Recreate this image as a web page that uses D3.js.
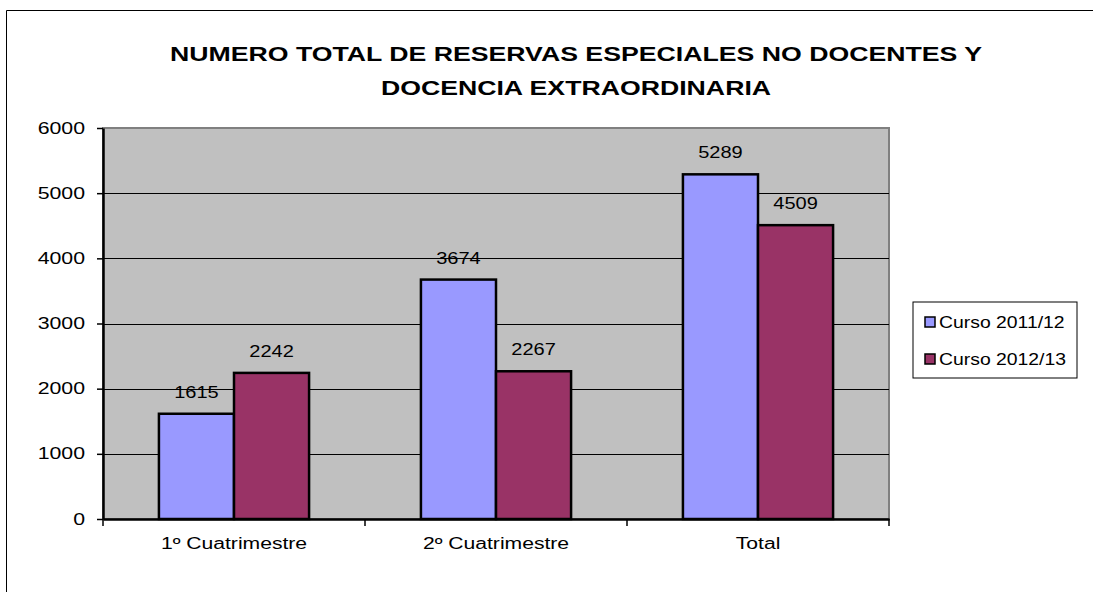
<!DOCTYPE html>
<html>
<head>
<meta charset="utf-8">
<script src="https://cdn.jsdelivr.net/npm/d3@7"></script>
<style>
  body { margin: 0; background: #fff; }
  text { font-family: "Liberation Sans", Arial, sans-serif; }
</style>
</head>
<body>
<svg id="chart" width="1093" height="592"></svg>
<script>
"use strict";

// chart data
const categories = ["1º Cuatrimestre", "2º Cuatrimestre", "Total"];
const seriesNames = ["Curso 2011/12", "Curso 2012/13"];
const curso1112 = [1615, 3674, 5289];
const curso1213 = [2242, 2267, 4509];
const yTicks = [0, 1000, 2000, 3000, 4000, 5000, 6000];
const titleLines = ["NUMERO TOTAL DE RESERVAS ESPECIALES NO DOCENTES Y", "DOCENCIA EXTRAORDINARIA"];
const colors = ["#9999ff", "#993366"];

const svg = d3.select("#chart");

// the original picture has its text a bit wider than normal, stretch it
function stretch(sel, factor) {
  sel.each(function() {
    const w = this.getComputedTextLength();
    d3.select(this)
      .attr("textLength", w * factor)
      .attr("lengthAdjust", "spacingAndGlyphs");
  });
}

// outer chart frame
svg.append("path")
  .attr("d", "M6.5,592 V10.5 H1093")
  .attr("fill", "none")
  .attr("stroke", "#000")
  .attr("stroke-width", 1);

// title
const title = svg.append("g").selectAll("text")
  .data(titleLines)
  .enter().append("text")
  .attr("x", 576)
  .attr("y", (d, i) => 61 + i * 34)
  .attr("text-anchor", "middle")
  .attr("font-size", 21)
  .attr("font-weight", "bold")
  .text(d => d);
stretch(title, 1.27);

const plot = { left: 103, right: 889, top: 128, bottom: 519 };

const x = d3.scaleBand()
  .domain(categories)
  .range([plot.left, plot.right]);

const x1 = d3.scaleBand()
  .domain(d3.range(seriesNames.length))
  .range([0, x.bandwidth()])
  .paddingOuter(0.745)
  .paddingInner(0);

const y = d3.scaleLinear()
  .domain([0, 6000])
  .range([plot.bottom, plot.top]);

// plot area
svg.append("rect")
  .attr("x", plot.left)
  .attr("y", plot.top)
  .attr("width", plot.right - plot.left)
  .attr("height", plot.bottom - plot.top)
  .attr("fill", "#c0c0c0")
  .attr("stroke", "#808080")
  .attr("stroke-width", 2);

// gridlines
svg.append("g").selectAll("line")
  .data(yTicks.filter(d => d > 0 && d < 6000))
  .enter().append("line")
  .attr("x1", plot.left)
  .attr("x2", plot.right)
  .attr("y1", d => Math.round(y(d)) + 0.5)
  .attr("y2", d => Math.round(y(d)) + 0.5)
  .attr("stroke", "#000")
  .attr("stroke-width", 1);

// bars
const rows = categories.map((c, i) => ({ cat: c, values: [curso1112[i], curso1213[i]] }));

const groups = svg.append("g").selectAll("g")
  .data(rows)
  .enter().append("g")
  .attr("transform", d => "translate(" + x(d.cat) + ",0)");

groups.selectAll("rect")
  .data(d => d.values.map((v, j) => ({ v: v, j: j })))
  .enter().append("rect")
  .attr("x", d => x1(d.j))
  .attr("y", d => y(d.v))
  .attr("width", x1.bandwidth())
  .attr("height", d => y(0) - y(d.v))
  .attr("fill", d => colors[d.j])
  .attr("stroke", "#000")
  .attr("stroke-width", 2.5);

// value labels
const valueLabels = groups.selectAll("text")
  .data(d => d.values.map((v, j) => ({ v: v, j: j })))
  .enter().append("text")
  .attr("x", d => x1(d.j) + x1.bandwidth() / 2)
  .attr("y", d => y(d.v) - 16)
  .attr("text-anchor", "middle")
  .attr("font-size", 16)
  .attr("fill", "#000")
  .text(d => d.v);
stretch(valueLabels, 1.25);

// y axis
const yAxis = svg.append("g")
  .attr("transform", "translate(" + plot.left + ",0)")
  .call(d3.axisLeft(y).tickValues(yTicks).tickFormat(d3.format("d"))
    .tickSize(6).tickPadding(12).tickSizeOuter(0));
yAxis.select(".domain").attr("stroke", "#000").attr("stroke-width", 2.5);
yAxis.selectAll(".tick line").attr("stroke-width", 1.5);
const yLabels = yAxis.selectAll("text").attr("font-size", 16).attr("fill", "#000")
  .style("font-family", "'Liberation Sans', Arial, sans-serif");
stretch(yLabels, 1.33);

// x axis
const xAxis = svg.append("g")
  .attr("transform", "translate(0," + plot.bottom + ")")
  .call(d3.axisBottom(x).tickSize(0).tickPadding(19));
xAxis.select(".domain").attr("stroke", "#000").attr("stroke-width", 2.5);
const xLabels = xAxis.selectAll("text").attr("font-size", 16).attr("fill", "#000")
  .style("font-family", "'Liberation Sans', Arial, sans-serif");
stretch(xLabels, 1.32);

// category separator ticks
svg.append("g").selectAll("line")
  .data(categories.map(c => x(c)).concat([plot.right]))
  .enter().append("line")
  .attr("x1", d => d)
  .attr("x2", d => d)
  .attr("y1", plot.bottom)
  .attr("y2", plot.bottom + 7)
  .attr("stroke", "#000")
  .attr("stroke-width", 1.5);

// legend
const legend = svg.append("g").attr("transform", "translate(913,302)");
legend.append("rect")
  .attr("width", 164)
  .attr("height", 76)
  .attr("fill", "#fff")
  .attr("stroke", "#000")
  .attr("stroke-width", 1);

const items = legend.selectAll("g.item")
  .data(seriesNames)
  .enter().append("g")
  .attr("class", "item")
  .attr("transform", (d, i) => "translate(12," + (15 + i * 37) + ")");

items.append("rect")
  .attr("width", 10)
  .attr("height", 10)
  .attr("fill", (d, i) => colors[i])
  .attr("stroke", "#000")
  .attr("stroke-width", 1.5);

const legendText = items.append("text")
  .attr("x", 14)
  .attr("y", 11)
  .attr("font-size", 16)
  .attr("fill", "#000")
  .text(d => d);
stretch(legendText, 1.21);
</script>
</body>
</html>
